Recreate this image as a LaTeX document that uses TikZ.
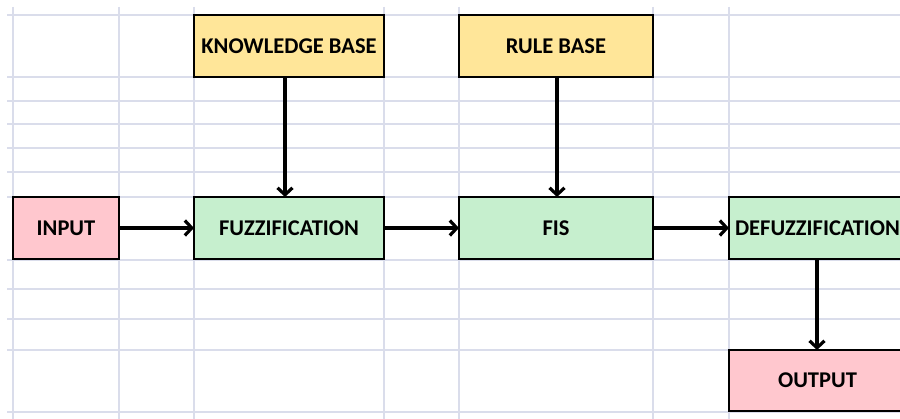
\documentclass[tikz,border=0pt]{standalone}
\usepackage{fontspec}
\setmainfont{Carlito}
\usetikzlibrary{arrows.meta}
\definecolor{gridline}{HTML}{DADDEB}
\definecolor{kbyellow}{HTML}{FFE699}
\definecolor{stagegreen}{HTML}{C6EFCE}
\definecolor{iopink}{HTML}{FFC7CE}
\tikzset{
  block/.style={draw=black, line width=2.6pt, inner sep=0pt, outer sep=0pt,
    font=\bfseries\fontsize{22.5}{24}\selectfont, text=black},
  flow/.style={line width=3.4pt, -{Straight Barb[length=7pt,width=15pt,line width=3.2pt]}}
}
\begin{document}
\begin{tikzpicture}[x=1pt,y=-1pt]
  \useasboundingbox (0,0) rectangle (900,419);
  \fill[white] (0,0) rectangle (900,419);
  % spreadsheet cell grid
  \begin{scope}[gridline, line width=1.2pt]
    \foreach \gx in {13,119,194,384,459,653,729}
      \draw (\gx,7) -- (\gx,419);
    \foreach \gy in {15,77,101,124,148,172,197,260,289,319,350,412}
      \draw (7,\gy) -- (900,\gy);
  \end{scope}
  \begin{scope}
    \clip (0,0) rectangle (900,419);
    % blocks: corners given as (left, top) and (right, bottom)
    \path[block, fill=kbyellow] (194,15) rectangle (384,77)
      node[midway] (kb) {KNOWLEDGE BASE};
    \path[block, fill=kbyellow] (459,15) rectangle (653,77)
      node[midway] (rb) {RULE BASE};
    \path[block, fill=iopink] (13,197) rectangle (119,259)
      node[midway] (in) {INPUT};
    \path[block, fill=stagegreen] (194,197) rectangle (384,259)
      node[midway] (fz) {FUZZIFICATION};
    \path[block, fill=stagegreen] (459,197) rectangle (653,259)
      node[midway] (fis) {FIS};
    \path[block, fill=stagegreen] (729,197) rectangle (906,259)
      node[midway] (dfz) {DEFUZZIFICATION};
    \path[block, fill=iopink] (729,350) rectangle (906,411)
      node[midway] (out) {OUTPUT};
  \end{scope}
  % named anchors on the block borders
  \coordinate (kbS) at (285,77);   \coordinate (fzN) at (285,197);
  \coordinate (rbS) at (557,77);   \coordinate (fisN) at (557,197);
  \coordinate (inE) at (119,228);  \coordinate (fzW) at (194,228);
  \coordinate (fzE) at (384,228);  \coordinate (fisW) at (459,228);
  \coordinate (fisE) at (653,228); \coordinate (dfzW) at (729,228);
  \coordinate (dfzS) at (817,259); \coordinate (outN) at (817,350);
  % connectors
  \draw[flow] (kbS) -- (fzN);
  \draw[flow] (rbS) -- (fisN);
  \draw[flow] (inE) -- (fzW);
  \draw[flow] (fzE) -- (fisW);
  \draw[flow] (fisE) -- (dfzW);
  \draw[flow] (dfzS) -- (outN);
\end{tikzpicture}
\end{document}
